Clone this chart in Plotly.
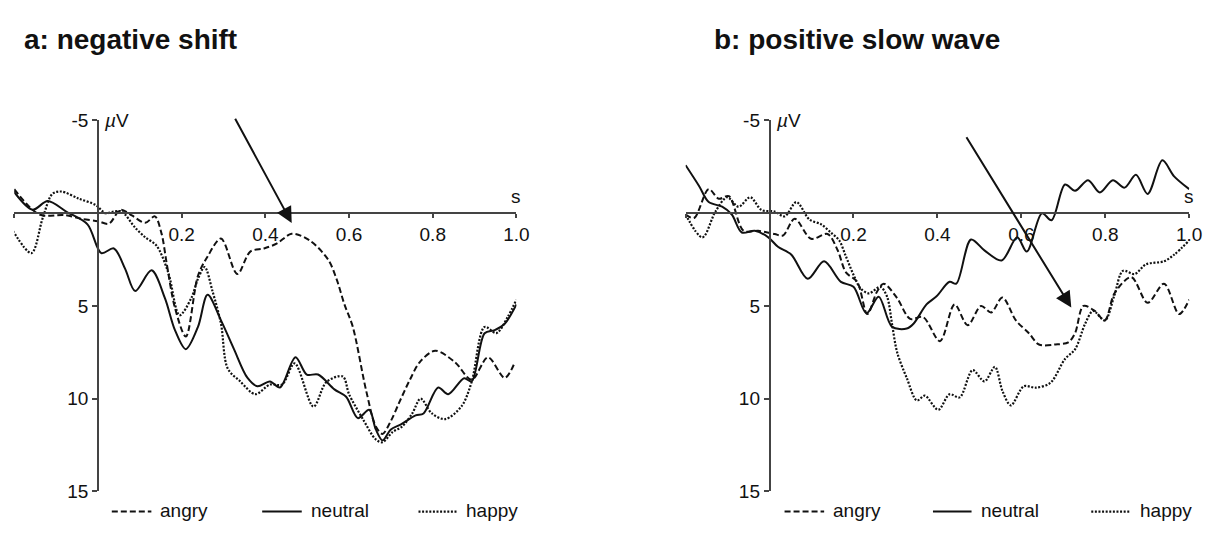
import plotly.graph_objects as go

W, H = 1222, 536

# ---- ERP waveforms (time in s, amplitude in µV; negative plotted upward) ----
# a: negative shift
a_angry_t = [-0.20, -0.14, -0.08, -0.04, 0.00, 0.026, 0.054, 0.081, 0.113, 0.136, 0.152, 0.164, 0.184,
             0.21, 0.239, 0.262, 0.294, 0.333, 0.364, 0.397, 0.428, 0.463, 0.506, 0.55, 0.57, 0.589,
             0.609, 0.641, 0.664, 0.68, 0.70, 0.72, 0.745, 0.77, 0.806, 0.853, 0.893, 0.932, 0.972, 0.995]
a_angry_v = [-1.3, 0.07, 0.1, 0.3, 0.43, 0.57, -0.19, 0.12, 0.52, 0.17, 1.1, 2.67, 5.1,
             6.65, 3.37, 2.33, 1.37, 3.28, 2.07, 1.9, 1.63, 1.11, 1.47, 2.5, 3.54, 4.92,
             6.13, 9.58, 11.5, 11.9, 11.2, 10.2, 9.0, 8.0, 7.42, 8.03, 8.98, 7.77, 8.88, 8.1]

a_neutral_t = [-0.203, -0.156, -0.12, -0.076, -0.025, 0.008, 0.038, 0.065, 0.089, 0.128, 0.16, 0.184,
               0.21, 0.239, 0.262, 0.294, 0.325, 0.357, 0.381, 0.411, 0.435, 0.472, 0.499, 0.526,
               0.565, 0.593, 0.621, 0.648, 0.664, 0.68, 0.70, 0.723, 0.759, 0.778, 0.813, 0.837,
               0.875, 0.893, 0.924, 0.948, 0.972, 1.0]
a_neutral_v = [-1.23, -0.19, -0.66, -0.09, 0.6, 2.15, 1.9, 3.0, 4.2, 3.08, 4.58, 6.3,
               7.33, 6.13, 4.4, 5.78, 7.33, 8.87, 9.33, 9.07, 9.4, 7.77, 8.7, 8.7,
               9.5, 9.9, 11.05, 10.6, 11.66, 12.25, 11.66, 11.4, 10.9, 10.8, 9.4, 9.76,
               8.9, 9.07, 6.47, 6.3, 5.96, 4.92]

a_happy_t = [-0.203, -0.159, -0.132, -0.109, -0.088, -0.045, -0.005, 0.018, 0.038, 0.057, 0.089, 0.113,
             0.14, 0.168, 0.195, 0.223, 0.239, 0.255, 0.274, 0.294, 0.31, 0.34, 0.376, 0.411, 0.44,
             0.47, 0.515, 0.546, 0.585, 0.60, 0.633, 0.664, 0.68, 0.704, 0.727, 0.751, 0.771,
             0.798, 0.83, 0.869, 0.893, 0.924, 0.952, 0.979, 1.0]
a_happy_v = [0.95, 2.15, 0.26, -1.04, -1.17, -0.78, -0.44, 0.0, -0.09, -0.09, 0.78, 1.3,
             1.75, 3.2, 5.5, 4.58, 3.54, 2.9, 4.23, 5.96, 8.37, 9.07, 9.76, 9.24, 9.24,
             8.1, 10.43, 9.1, 8.8, 9.76, 11.1, 12.2, 12.35, 11.8, 11.5, 10.8, 10.0,
             10.8, 11.1, 10.4, 9.1, 6.13, 6.47, 5.6, 4.66]

# b: positive slow wave
b_angry_t = [-0.20, -0.18, -0.145, -0.121, -0.097, -0.062, -0.027, 0.012, 0.032, 0.06, 0.099, 0.138,
             0.162, 0.182, 0.209, 0.233, 0.256, 0.272, 0.304, 0.335, 0.366, 0.406, 0.441, 0.472,
             0.504, 0.528, 0.555, 0.587, 0.618, 0.642, 0.681, 0.712, 0.728, 0.748, 0.775, 0.799,
             0.822, 0.862, 0.901, 0.94, 0.976, 1.0]
b_angry_v = [0.07, 0.26, -1.3, -0.78, -0.92, 0.95, 0.95, 1.12, 1.2, 0.3, 1.38, 1.12,
             1.98, 3.19, 3.71, 5.44, 4.23, 3.8, 4.58, 5.7, 5.6, 6.9, 4.92, 6.04,
             5.0, 5.35, 4.55, 5.78, 6.47, 7.08, 7.08, 6.96, 6.47, 5.0, 5.27, 5.78,
             4.32, 3.45, 4.83, 3.8, 5.44, 4.66]

b_neutral_t = [-0.20, -0.168, -0.145, -0.113, -0.09, -0.066, -0.035, -0.003, 0.02, 0.052, 0.091, 0.13,
               0.17, 0.20, 0.231, 0.26, 0.292, 0.327, 0.343, 0.374, 0.398, 0.429, 0.445, 0.48,
               0.512, 0.553, 0.59, 0.613, 0.649, 0.672, 0.704, 0.728, 0.759, 0.787, 0.818, 0.846,
               0.873, 0.901, 0.936, 0.964, 1.0]
b_neutral_v = [-2.59, -1.47, -0.6, -0.35, 0.07, 1.04, 0.95, 1.3, 1.81, 2.24, 3.54, 2.59,
               3.7, 3.97, 5.4, 4.5, 6.13, 6.22, 5.96, 4.92, 4.48, 3.7, 3.8, 1.42,
               2.0, 2.55, 1.3, 2.07, 0.0, 0.38, -1.55, -1.21, -1.78, -1.12, -1.78, -1.38,
               -2.07, -1.04, -2.85, -1.99, -1.3]

b_happy_t = [-0.20, -0.16, -0.129, -0.101, -0.074, -0.046, -0.019, 0.012, 0.036, 0.064, 0.095, 0.123,
             0.146, 0.166, 0.182, 0.201, 0.217, 0.237, 0.264, 0.28, 0.292, 0.304, 0.327, 0.351,
             0.37, 0.402, 0.429, 0.453, 0.484, 0.512, 0.537, 0.555, 0.575, 0.606, 0.634, 0.669,
             0.704, 0.728, 0.752, 0.771, 0.799, 0.822, 0.842, 0.87, 0.897, 0.94, 0.964, 1.0]
b_happy_v = [0.07, 1.3, -0.09, -0.86, -0.35, -0.86, -0.17, -0.09, 0.17, -0.6, 0.34, 0.6,
             1.04, 1.47, 2.33, 3.37, 4.06, 4.32, 3.97, 4.5, 6.0, 7.5, 8.89, 10.1,
             9.84, 10.6, 9.76, 9.93, 8.46, 9.07, 8.29, 9.59, 10.36, 9.33, 9.41, 9.15,
             7.86, 7.34, 5.96, 5.27, 5.78, 4.4, 3.11, 3.28, 2.76, 2.59, 2.24, 1.47]

conditions = ["angry", "neutral", "happy"]
x_tickvals = [-0.2, 0.0, 0.2, 0.4, 0.6, 0.8, 1.0]
x_ticktext = ["", "", "0.2", "0.4", "0.6", "0.8", "1.0"]
y_tickvals = [-5, 5, 10, 15]
y_ticktext = ["-5", "5", "10", "15"]
panel_titles = ["a: negative shift", "b: positive slow wave"]

# arrows: (tail t, tail µV, head t, head µV)
arrow_a = (0.326, -5.17, 0.463, 0.53)
arrow_b = (0.467, -4.18, 0.719, 5.09)

X_RANGE = [-0.2, 1.0]
Y_RANGE = [15, -5]

FONT = "Liberation Sans, Arial, Helvetica, sans-serif"
INK = "#111111"
AXIS = "#444444"
DASH = {"angry": "6px,3px", "neutral": "solid", "happy": "2px,1.6px"}
WIDTH = {"angry": 2, "neutral": 2, "happy": 2.2}


def px_x(p):
    return p / W


def px_y(p):
    return 1 - p / H


# plot areas (pixel extents of the axes)
dom_a = [px_x(14.4), px_x(522.0)]
dom_b = [px_x(693.0), px_x(1202.0)]
dom_y = [px_y(501.0), px_y(115.0)]

# fractional position of t=0 and v=0 within each axis
fx0 = (0 - X_RANGE[0]) / (X_RANGE[1] - X_RANGE[0])
fy0 = (Y_RANGE[0] - 0) / (Y_RANGE[0] - Y_RANGE[1])
x_axis_pos = dom_y[0] + fy0 * (dom_y[1] - dom_y[0])

fig = go.Figure()

series = {
    "a": {"angry": (a_angry_t, a_angry_v), "neutral": (a_neutral_t, a_neutral_v),
          "happy": (a_happy_t, a_happy_v)},
    "b": {"angry": (b_angry_t, b_angry_v), "neutral": (b_neutral_t, b_neutral_v),
          "happy": (b_happy_t, b_happy_v)},
}

for key, xa, ya in (("a", "x", "y"), ("b", "x2", "y2")):
    for cond in conditions:
        t, v = series[key][cond]
        fig.add_trace(go.Scatter(
            x=t, y=v, xaxis=xa, yaxis=ya, mode="lines", name=cond, showlegend=False,
            line=dict(color=INK, width=WIDTH[cond], dash=DASH[cond], shape="spline", smoothing=0.9),
            hoverinfo="skip",
        ))


def x_axis(dom):
    return dict(domain=dom, range=X_RANGE, anchor="free", position=x_axis_pos,
                showline=True, linecolor=AXIS, linewidth=1.5, showgrid=False, zeroline=False,
                ticks="outside", ticklen=4, tickwidth=1.5, tickcolor=AXIS,
                tickvals=x_tickvals, ticktext=x_ticktext,
                tickfont=dict(family=FONT, size=19, color=INK), fixedrange=True)


def y_axis(dom_x):
    pos = dom_x[0] + fx0 * (dom_x[1] - dom_x[0])
    return dict(domain=dom_y, range=Y_RANGE, anchor="free", position=pos,
                showline=True, linecolor=AXIS, linewidth=1.5, showgrid=False, zeroline=False,
                ticks="outside", ticklen=5, tickwidth=1.5, tickcolor=AXIS,
                tickvals=y_tickvals, ticktext=y_ticktext,
                tickfont=dict(family=FONT, size=19, color=INK), fixedrange=True)


annotations = []
shapes = []

for i, (xa, ya, dom, arrow) in enumerate((("x", "y", dom_a, arrow_a), ("x2", "y2", dom_b, arrow_b))):
    # unit labels
    annotations.append(dict(x=0.0, y=-5, xref=xa, yref=ya, text="<i>µ</i>V", showarrow=False,
                            xanchor="left", yanchor="middle", xshift=4,
                            font=dict(family=FONT, size=19, color=INK)))
    annotations.append(dict(x=1.0, y=0, xref=xa, yref=ya, text="s", showarrow=False,
                            xanchor="center", yanchor="bottom", yshift=4,
                            font=dict(family=FONT, size=19, color=INK)))
    # arrow marking the effect
    t0, v0, t1, v1 = arrow
    annotations.append(dict(x=t1, y=v1, ax=t0, ay=v0, xref=xa, yref=ya, axref=xa, ayref=ya,
                            text="", showarrow=True, arrowhead=2, arrowsize=1.6, arrowwidth=2,
                            arrowcolor=INK, standoff=0, startstandoff=0))
    # panel title
    annotations.append(dict(x=px_x(22 if i == 0 else 720), y=px_y(31), xref="paper", yref="paper",
                            text="<b>%s</b>" % panel_titles[i], showarrow=False,
                            xanchor="left", yanchor="middle",
                            font=dict(family=FONT, size=28, color=INK)))

# legends below each panel
legend_rows = {
    "a": [(113, 153, 160), (265, 305, 312), (423, 462, 469)],
    "b": [(793, 833, 840), (943, 982, 990), (1103, 1142, 1150)],
}
for key in ("a", "b"):
    for cond, (l0, l1, tx) in zip(conditions, legend_rows[key]):
        shapes.append(dict(type="line", xref="paper", yref="paper",
                           x0=px_x(l0), x1=px_x(l1), y0=px_y(522), y1=px_y(522),
                           line=dict(color=INK, width=WIDTH[cond], dash=DASH[cond])))
        annotations.append(dict(x=px_x(tx), y=px_y(521), xref="paper", yref="paper", text=cond,
                                showarrow=False, xanchor="left", yanchor="middle",
                                font=dict(family=FONT, size=19, color=INK)))

fig.update_layout(
    width=W, height=H, margin=dict(l=0, r=0, t=0, b=0),
    paper_bgcolor="white", plot_bgcolor="white",
    xaxis=x_axis(dom_a), yaxis=y_axis(dom_a),
    xaxis2=x_axis(dom_b), yaxis2=y_axis(dom_b),
    annotations=annotations, shapes=shapes, showlegend=False,
)

fig.write_html("out.html")
